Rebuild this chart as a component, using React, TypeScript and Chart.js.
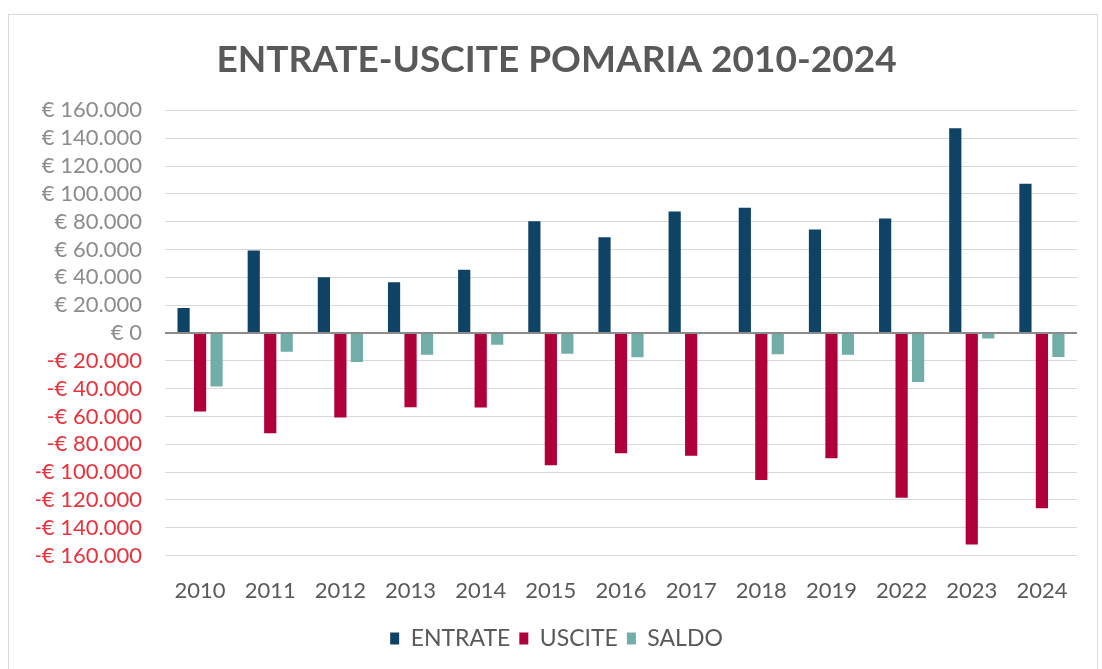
import React, { useEffect, useRef } from "react";
import { Chart, registerables } from "chart.js";

Chart.register(...registerables);

const TITLE = "ENTRATE-USCITE POMARIA 2010-2024";
const YEARS = ["2010", "2011", "2012", "2013", "2014", "2015", "2016", "2017", "2018", "2019", "2022", "2023", "2024"];
const ENTRATE = [18000, 59300, 40100, 36500, 45400, 80400, 68900, 87400, 90000, 74400, 82300, 147200, 107300];
const USCITE = [-56500, -72000, -60800, -53300, -53600, -95100, -86500, -88200, -105700, -90000, -118400, -152000, -126000];
const SALDO = [-38500, -13400, -20800, -15600, -8400, -15000, -17400, -800, -15200, -15600, -35200, -4000, -17300];
const Y_MIN = -160000;
const Y_MAX = 160000;
const Y_STEP = 20000;

const FONT = "Lato, 'Open Sans', sans-serif";

function formatEuro(v: number): string {
  const abs = Math.abs(v);
  const s = abs.toString().replace(/\B(?=(\d{3})+(?!\d))/g, ".");
  return (v < 0 ? "-€ " : "€ ") + s;
}

export default function App() {
  const ref = useRef<HTMLCanvasElement | null>(null);

  useEffect(() => {
    document.body.style.margin = "0";
    if (!ref.current) return;
    const chart = new Chart(ref.current, {
      type: "bar",
      data: {
        labels: YEARS,
        datasets: [
          { label: "ENTRATE", data: ENTRATE, backgroundColor: "#0f4366" },
          { label: "USCITE", data: USCITE, backgroundColor: "#b0003a" },
          { label: "SALDO", data: SALDO, backgroundColor: "#72aea8" },
        ],
      },
      options: {
        responsive: false,
        animation: false,
        maintainAspectRatio: false,
        datasets: {
          bar: { categoryPercentage: 0.705, barPercentage: 0.74 },
        },
        layout: { padding: { left: 27, right: 20, top: 0, bottom: 10 } },
        plugins: {
          title: {
            display: true,
            text: TITLE,
            color: "#595959",
            font: { family: FONT, size: 37, weight: "bold" },
            padding: { top: 23, bottom: 28 },
          },
          legend: {
            position: "bottom",
            labels: {
              color: "#595959",
              font: { family: FONT, size: 23 },
              boxWidth: 9,
              boxHeight: 12,
              padding: 9,
            },
          },
          tooltip: { enabled: false },
        },
        scales: {
          x: {
            grid: { display: false },
            border: { display: false },
            ticks: { color: "#595959", font: { family: FONT, size: 22 }, padding: 14 },
          },
          y: {
            min: Y_MIN,
            max: Y_MAX,
            border: { display: false },
            afterFit: (scale: any) => {
              scale.width = 129;
            },
            grid: {
              color: (ctx: any) => (ctx.tick && ctx.tick.value === 0 ? "#8c8c8c" : "#d9d9d9"),
              lineWidth: (ctx: any) => (ctx.tick && ctx.tick.value === 0 ? 2 : 1),
              drawTicks: false,
            },
            ticks: {
              stepSize: Y_STEP,
              padding: 23,
              autoSkip: false,
              font: { family: FONT, size: 22 },
              color: (ctx: any) => (ctx.tick && ctx.tick.value < 0 ? "#e8323c" : "#8c8c8c"),
              callback: (v: any) => formatEuro(Number(v)),
            },
          },
        },
      },
    });
    return () => chart.destroy();
  }, []);

  return (
    <div
      style={{
        position: "absolute",
        left: 8,
        top: 14,
        width: 1088,
        height: 660,
        border: "1px solid #d9d9d9",
        background: "#fff",
      }}
    >
      <canvas ref={ref} width={1088} height={655} style={{ display: "block" }} />
    </div>
  );
}
